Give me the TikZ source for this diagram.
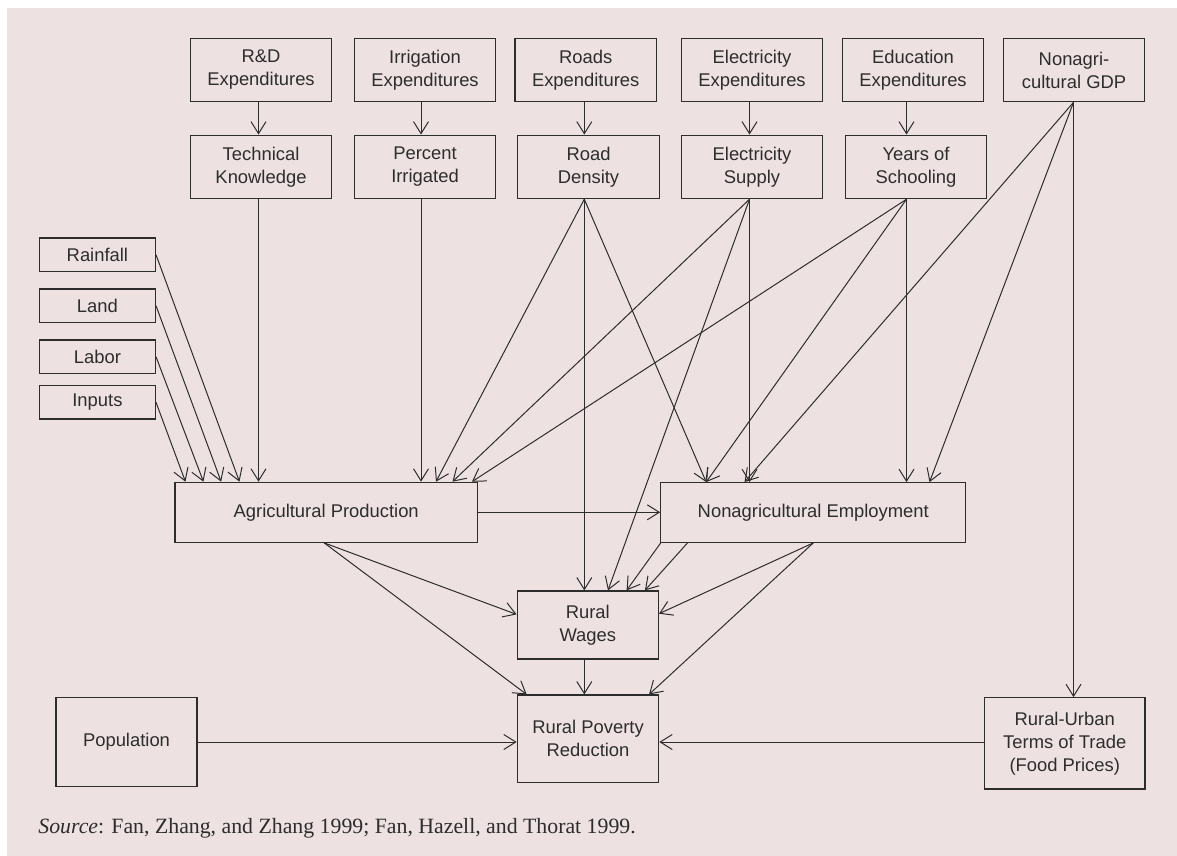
\documentclass[tikz,border=0pt]{standalone}
\usepackage{fontspec}
\setmainfont{Liberation Serif}
\newfontfamily\boxfont{Liberation Sans}
\usetikzlibrary{arrows.meta,calc}
\definecolor{bgpink}{RGB}{237,225,226}
\definecolor{ink}{RGB}{45,45,45}
\tikzset{
  box/.style={draw=ink, line width=0.6pt, align=center, inner sep=0pt, text=ink,
    font=\boxfont\fontsize{9.2}{11.5}\selectfont},
  topbox/.style={box, minimum width=70.75pt, minimum height=31.75pt},
  sidebox/.style={box, minimum width=58pt, minimum height=16.75pt},
  arr/.style={draw=ink, line width=0.5pt, -{Straight Barb[length=6pt,width=7.5pt]}}
}
\begin{document}
\begin{tikzpicture}[x=0.5pt,y=-0.5pt]
\useasboundingbox (0,0) rectangle (1177,856);
\fill[bgpink] (7,8) rectangle (1177,856);

\node[topbox] (rde) at (261,70) {R\&D\\Expenditures};
\node[topbox] (ire) at (425,70) {Irrigation\\Expenditures};
\node[topbox] (roe) at (585.7,70) {Roads\\Expenditures};
\node[topbox] (ele) at (752,70) {Electricity\\Expenditures};
\node[topbox] (ede) at (913,70) {Education\\Expenditures};
\node[topbox] (gdp) at (1074,70) {Nonagri-\\cultural GDP};

\node[topbox] (tk) at (261,166.9) {Technical\\Knowledge};
\node[topbox] (pi) at (425,166.9) {Percent\\Irrigated};
\node[topbox] (rd) at (588.5,166.9) {Road\\Density};
\node[topbox] (es) at (752,166.9) {Electricity\\Supply};
\node[topbox] (ys) at (916,166.9) {Years of\\Schooling};

\node[sidebox] (rain) at (97.4,254.7) {Rainfall};
\node[sidebox] (land) at (97.4,305.7) {Land};
\node[sidebox] (lab) at (97.4,356.7) {Labor};
\node[sidebox] (inp) at (97.4,402.3) {Inputs};

\node[box, minimum width=151.15pt, minimum height=30pt] (agri) at (326.2,512.3) {Agricultural Production};
\node[box, minimum width=152.5pt, minimum height=29.8pt] (nonag) at (813.3,512.5) {Nonagricultural Employment};
\node[box, minimum width=70.6pt, minimum height=34pt] (wage) at (587.8,625) {Rural\\Wages};
\node[box, minimum width=70.7pt, minimum height=43.65pt] (pov) at (588,738.7) {Rural Poverty\\Reduction};
\node[box, minimum width=70.5pt, minimum height=44.85pt] (pop) at (126.5,742) {Population};
\node[box, minimum width=80.3pt, minimum height=45.65pt] (tot) at (1064.7,743.4) {Rural-Urban\\Terms of Trade\\(Food Prices)};

\node[anchor=base west, inner sep=0pt, text=ink, font=\fontsize{10.9}{13}\selectfont] (src) at (38,833)
  {\textit{Source}: Fan, Zhang, and Zhang 1999; Fan, Hazell, and Thorat 1999.};

\coordinate (tk-p) at ($(tk.south)+(-2.5,0)$);
\coordinate (pi-p) at ($(pi.south)+(-4,0)$);
\coordinate (rd-p) at ($(rd.south)+(-4.2,0)$);
\coordinate (es-p) at ($(es.south)+(-2.5,0)$);
\coordinate (ys-p) at ($(ys.south)+(-9.5,0)$);
\coordinate (gdp-p) at ($(gdp.south)+(-0.5,0)$);

\foreach \a/\b in {rde/tk, ire/pi, roe/rd, ele/es, ede/ys}
  \draw[arr] (\a.south -| \b-p) -- (\b.north -| \b-p);

\foreach \n/\dx in {inp/11, lab/29, land/46.7, rain/65}
  \draw[arr] (\n.east) -- ($(agri.north west)+(\dx,0)$);
\draw[arr] (tk-p) -- (agri.north -| tk-p);
\draw[arr] (pi-p) -- (agri.north -| pi-p);
\draw[arr] (rd-p) -- ($(agri.north west)+(261.5,0)$);
\draw[arr] (es-p) -- ($(agri.north west)+(278,0)$);
\draw[arr] (ys-p) -- ($(agri.north west)+(297.5,0)$);

\draw[arr] (rd-p) -- ($(nonag.north west)+(46,0)$);
\draw[arr] (ys-p) -- ($(nonag.north west)+(46,0)$);
\draw[arr] (gdp-p) -- ($(nonag.north west)+(84.3,0)$);
\draw[arr] (es-p) -- (nonag.north -| es-p);
\draw[arr] (ys-p) -- (nonag.north -| ys-p);
\draw[arr] (gdp-p) -- ($(nonag.north west)+(269.3,0)$);
\draw[arr] (gdp-p) -- (tot.north -| gdp-p);

\draw[arr] (agri.east) -- (agri.east -| nonag.west);

\draw[arr] (rd-p) -- (wage.north -| rd-p);
\draw[arr] (es-p) -- ($(wage.north west)+(91.4,0)$);
\draw[arr] ($(nonag.south west)+(0.5,0)$) -- ($(wage.north west)+(110,0)$);
\draw[arr] ($(nonag.south west)+(27.3,0)$) -- ($(wage.north west)+(128.3,0)$);
\draw[arr] (nonag.south) -- ($(wage.north east)+(0,23.3)$);
\draw[arr] (nonag.south) -- ($(pov.north east)+(-10.3,0)$);
\draw[arr] ($(agri.south)+(-2,0)$) -- ($(wage.north west)+(0,24)$);
\draw[arr] ($(agri.south)+(-2,0)$) -- ($(pov.north west)+(10,0)$);
\draw[arr] (wage.south -| rd-p) -- (pov.north -| rd-p);

\draw[arr] (pop.east) -- (pop.east -| pov.west);
\draw[arr] (tot.west |- pop.east) -- (pov.east |- pop.east);
\end{tikzpicture}
\end{document}
